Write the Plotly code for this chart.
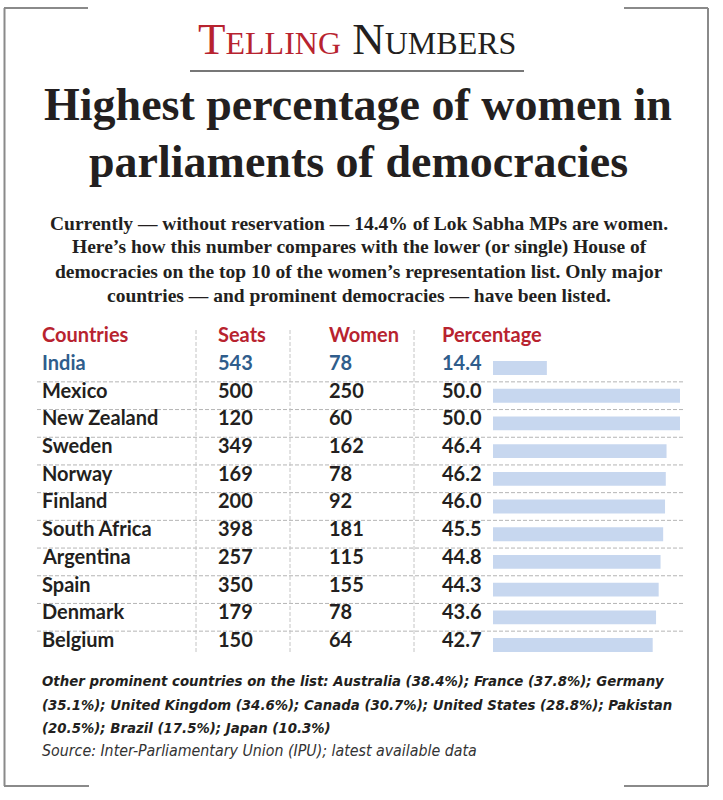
import plotly.graph_objects as go

# ---------------- data ----------------
countries = ["India", "Mexico", "New Zealand", "Sweden", "Norway", "Finland",
             "South Africa", "Argentina", "Spain", "Denmark", "Belgium"]
seats = [543, 500, 120, 349, 169, 200, 398, 257, 350, 179, 150]
women = [78, 250, 60, 162, 78, 92, 181, 115, 155, 78, 64]
percentage = [14.4, 50.0, 50.0, 46.4, 46.2, 46.0, 45.5, 44.8, 44.3, 43.6, 42.7]
headers = ["Countries", "Seats", "Women", "Percentage"]

brand_parts = ["Telling", "Numbers"]
headline_lines = ["Highest percentage of women in", "parliaments of democracies"]
subtitle_lines = [
    "Currently \u2014 without reservation \u2014 14.4% of Lok Sabha MPs are women.",
    "Here\u2019s how this number compares with the lower (or single) House of",
    "democracies on the top 10 of the women\u2019s representation list. Only major",
    "countries \u2014 and prominent democracies \u2014 have been listed.",
]
footnote_lines = [
    "Other prominent countries on the list: Australia (38.4%); France (37.8%); Germany",
    "(35.1%); United Kingdom (34.6%); Canada (30.7%); United States (28.8%); Pakistan",
    "(20.5%); Brazil (17.5%); Japan (10.3%)",
]
source_text = "Source: Inter-Parliamentary Union (IPU); latest available data"

# ---------------- geometry helpers ----------------
W, H = 723, 800
def px(x):
    return x / W
def py(y):
    return 1 - y / H

RED = "#b8232f"
BLUE = "#2f5d8c"
DARK = "#231f20"
BAR = "#c7d7ef"

row_pitch = 27.7
row0 = 368.0
n = len(countries)
rows = list(range(n))
y_top = row0 - row_pitch / 2
y_bot = row0 + (n - 0.5) * row_pitch

fig = go.Figure(
    go.Bar(x=percentage, y=rows, orientation="h", marker_color=BAR,
           marker_line_width=0, width=0.5, hoverinfo="skip")
)

fig.update_layout(
    width=W, height=H,
    margin=dict(l=0, r=0, t=0, b=0),
    paper_bgcolor="white", plot_bgcolor="white",
    showlegend=False,
    xaxis=dict(domain=[px(493), px(680)], range=[0, 50], visible=False, fixedrange=True),
    yaxis=dict(domain=[py(y_bot), py(y_top)], range=[n - 0.5, -0.5], visible=False, fixedrange=True),
)

ann = []
shapes = []

# Brand line
ann.append(dict(
    text=f'<span style="color:{RED}">{brand_parts[0]}</span> {brand_parts[1]}',
    x=px(357), y=py(39), xref="paper", yref="paper", xanchor="center", yanchor="middle",
    showarrow=False, font=dict(family="Liberation Serif", size=45, color=DARK, variant="small-caps"),
))
shapes.append(dict(type="line", xref="paper", yref="paper", x0=px(190), x1=px(524),
                   y0=py(71), y1=py(71), line=dict(color="#777", width=2)))

# Headline
for line, yy in zip(headline_lines, [104, 161]):
    ann.append(dict(text=line, x=px(358), y=py(yy), xref="paper", yref="paper",
                    xanchor="center", yanchor="middle", showarrow=False,
                    font=dict(family="Liberation Serif", size=46, color=DARK, weight="bold")))

# Subtitle
for line, yy in zip(subtitle_lines, [223, 247, 271, 295]):
    ann.append(dict(text=line, x=px(359), y=py(yy), xref="paper", yref="paper",
                    xanchor="center", yanchor="middle", showarrow=False,
                    font=dict(family="Liberation Serif", size=19.5, color=DARK, weight="bold")))

# Table
col_x = [40, 216, 327, 440]
tfont = "Lato"
for h, cx in zip(headers, col_x):
    ann.append(dict(text=h, x=px(cx), y=py(334), xref="paper", yref="paper",
                    xanchor="left", yanchor="middle", showarrow=False,
                    font=dict(family=tfont, size=20, color=RED, weight=700)))
for i in rows:
    color = BLUE if i == 0 else DARK
    vals = [countries[i], str(seats[i]), str(women[i]), f"{percentage[i]:.1f}"]
    for v, cx in zip(vals, col_x):
        ann.append(dict(text=v, x=px(cx), y=i, xref="paper", yref="y", yshift=6,
                        xanchor="left", yanchor="middle", showarrow=False,
                        font=dict(family=tfont, size=20, color=color, weight=700)))

# row separators
for k in range(n - 1):
    shapes.append(dict(type="line", xref="paper", yref="y", x0=px(37), x1=px(683),
                       y0=k + 0.5, y1=k + 0.5, layer="above",
                       line=dict(color="#b5b5b5", width=1, dash="4px,2px")))
# vertical separators
for vx in [196, 290, 414]:
    shapes.append(dict(type="line", xref="paper", yref="paper", x0=px(vx), x1=px(vx),
                       y0=py(330), y1=py(654), line=dict(color="#c4c4c4", width=1, dash="4px,2px")))

# Footnote
ffont = "DejaVu Sans Condensed"
for line, yy in zip(footnote_lines, [680, 704, 727]):
    ann.append(dict(text=line, x=px(40), y=py(yy), xref="paper", yref="paper",
                    xanchor="left", yanchor="middle", showarrow=False,
                    font=dict(family=ffont, size=14.8, color=DARK, weight="bold", style="italic")))
ann.append(dict(text=source_text, x=px(40), y=py(750), xref="paper", yref="paper",
                xanchor="left", yanchor="middle", showarrow=False,
                font=dict(family=ffont, size=15.8, color="#333", style="italic")))

# Frame (open corners)
fc = dict(color="#8a8a8a", width=2)
for (x0, y0, x1, y1) in [(4, 8, 88, 8), (624, 8, 708, 8), (4, 786, 89, 786), (624, 786, 708, 786),
                         (4.5, 8, 4.5, 786), (708, 8, 708, 786)]:
    shapes.append(dict(type="line", xref="paper", yref="paper", x0=px(x0), x1=px(x1),
                       y0=py(y0), y1=py(y1), line=fc))

fig.update_layout(annotations=ann, shapes=shapes)
fig.write_html("out.html", config={"displayModeBar": False},
               post_script="document.body.style.margin='0px';")
